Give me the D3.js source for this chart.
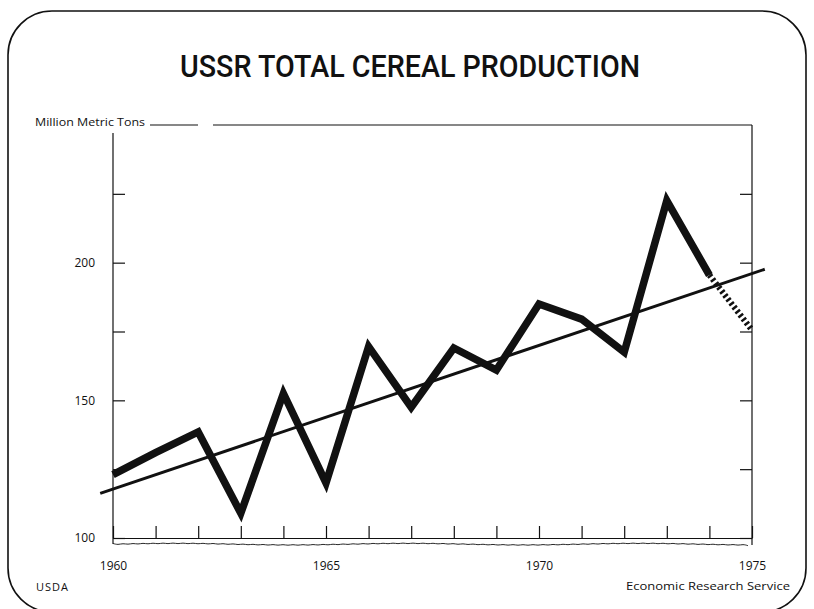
<!DOCTYPE html>
<html>
<head>
<meta charset="utf-8">
<script src="https://d3js.org/d3.v7.min.js"></script>
<style>
body { margin: 0; background: #fff; }
svg { display: block; }
.axis text { font-family: "Open Sans", sans-serif; font-size: 12px; fill: #111; }
.axis line { stroke: #111; stroke-width: 1.2; }
</style>
</head>
<body>
<svg id="chart" width="814" height="609"></svg>
<script>
"use strict";

//Yearly production, million metric tons
var years = [1960, 1961, 1962, 1963, 1964, 1965, 1966, 1967, 1968, 1969, 1970, 1971, 1972, 1973, 1974];
var production = [123, 131, 138.5, 109, 152.5, 120, 169.5, 147.5, 169, 161, 185, 179.5, 167.5, 222.5, 195.5];

//Dotted estimate segment
var estimateYears = [1974, 1975];
var estimateValues = [195.5, 175.5];

//Trend line end points (it runs a little past both axes)
var trendYears = [1959.7, 1975.3];
var trendValues = [116.2, 197.6];

//Ticks and labels
var yTicks = [100, 125, 150, 175, 200, 225];
var yLabels = [100, 150, 200];
var xTicks = d3.range(1960, 1976);
var xLabels = [1960, 1965, 1970, 1975];

var svg = d3.select("#chart");

//Scales
var x = d3.scaleLinear().domain([1960, 1975]).range([113, 752]);
var y = d3.scaleLinear().domain([100, 250]).range([538, 125]);

//Rounded frame round the whole slide
svg.append("rect")
  .attr("x", 8)
  .attr("y", 11)
  .attr("width", 798)
  .attr("height", 601)
  .attr("rx", 44)
  .attr("fill", "none")
  .attr("stroke", "#111")
  .attr("stroke-width", 1.6);

//Title
svg.append("text")
  .attr("x", 410)
  .attr("y", 77)
  .attr("text-anchor", "middle")
  .attr("textLength", 460)
  .attr("lengthAdjust", "spacingAndGlyphs")
  .style("font-family", "Roboto, sans-serif")
  .style("font-size", "32px")
  .style("font-weight", 500)
  .style("fill", "#111")
  .text("USSR TOTAL CEREAL PRODUCTION");

//Unit label and top rule
svg.append("text")
  .attr("x", 35)
  .attr("y", 126)
  .attr("textLength", 110)
  .attr("lengthAdjust", "spacingAndGlyphs")
  .style("font-family", "\"Open Sans\", sans-serif")
  .style("font-size", "11px")
  .style("fill", "#111")
  .text("Million Metric Tons");

svg.append("line")
  .attr("x1", 150).attr("x2", 198)
  .attr("y1", y(250)).attr("y2", y(250))
  .attr("stroke", "#111").attr("stroke-width", 1.2);

svg.append("line")
  .attr("x1", 213).attr("x2", x(1975))
  .attr("y1", y(250)).attr("y2", y(250))
  .attr("stroke", "#111").attr("stroke-width", 1.2);

//Left axis, ticks point inward
var yAxis = svg.append("g")
  .attr("class", "axis")
  .attr("transform", "translate(" + x(1960) + ",0)")
  .call(d3.axisLeft(y)
    .tickValues(yTicks)
    .tickSizeInner(-12)
    .tickSizeOuter(0)
    .tickPadding(18)
    .tickFormat(function(d) { return yLabels.includes(d) ? d : ""; }));
yAxis.select(".domain").remove();

//Right axis ticks
var yAxisRight = svg.append("g")
  .attr("class", "axis")
  .attr("transform", "translate(" + x(1975) + ",0)")
  .call(d3.axisRight(y)
    .tickValues(yTicks)
    .tickSizeInner(-12)
    .tickSizeOuter(0)
    .tickFormat(""));
yAxisRight.select(".domain").remove();

//Vertical frame lines of the plot
svg.append("line")
  .attr("x1", x(1960)).attr("x2", x(1960))
  .attr("y1", 133).attr("y2", 544)
  .attr("stroke", "#111").attr("stroke-width", 1.2);

svg.append("line")
  .attr("x1", x(1975)).attr("x2", x(1975))
  .attr("y1", y(250)).attr("y2", 545)
  .attr("stroke", "#111").attr("stroke-width", 1.2);

//Bottom axis, ticks point up
var xAxis = svg.append("g")
  .attr("class", "axis")
  .attr("transform", "translate(0," + y(100) + ")")
  .call(d3.axisBottom(x)
    .tickValues(xTicks)
    .tickSizeInner(-12)
    .tickSizeOuter(0)
    .tickPadding(23)
    .tickFormat(function(d) { return xLabels.includes(d) ? d : ""; }));
xAxis.select(".domain")
  .attr("stroke", "#111")
  .attr("stroke-width", 1.2);

//Wavy broken-axis line under the x axis
var wave = d3.line()
  .curve(d3.curveBasis)
  .x(function(d) { return d[0]; })
  .y(function(d) { return d[1]; });

svg.append("path")
  .attr("d", wave(d3.range(x(1960), x(1975) + 1, 5).map(function(px, i) {
    return [px, 544 + (i % 2 ? 0.9 : -0.6) + Math.sin(px / 37) * 0.8];
  })))
  .attr("fill", "none")
  .attr("stroke", "#111")
  .attr("stroke-width", 0.9);

//Trend line
var trendPts = trendYears.map(function(d, i) { return {year: d, value: trendValues[i]}; });
var line = d3.line()
  .x(function(d) { return x(d.year); })
  .y(function(d) { return y(d.value); });

svg.append("path")
  .datum(trendPts)
  .attr("d", line)
  .attr("fill", "none")
  .attr("stroke", "#111")
  .attr("stroke-width", 3);

//Production line
var prodPts = years.map(function(d, i) { return {year: d, value: production[i]}; });
svg.append("path")
  .datum(prodPts)
  .attr("d", line)
  .attr("fill", "none")
  .attr("stroke", "#111")
  .attr("stroke-width", 7.5)
  .attr("stroke-linejoin", "miter")
  .attr("stroke-miterlimit", 10);

//Estimate, dotted
var estPts = estimateYears.map(function(d, i) { return {year: d, value: estimateValues[i]}; });
svg.append("path")
  .datum(estPts)
  .attr("d", line)
  .attr("fill", "none")
  .attr("stroke", "#111")
  .attr("stroke-width", 6)
  .attr("stroke-dasharray", "2.5,2.5");

//Footer texts
svg.append("text")
  .attr("x", 36)
  .attr("y", 591)
  .style("font-family", "\"Open Sans\", sans-serif")
  .style("font-size", "11px")
  .style("letter-spacing", "1px")
  .style("fill", "#111")
  .text("USDA");

svg.append("text")
  .attr("x", 790)
  .attr("y", 590)
  .attr("text-anchor", "end")
  .attr("textLength", 164)
  .attr("lengthAdjust", "spacingAndGlyphs")
  .style("font-family", "\"Open Sans\", sans-serif")
  .style("font-size", "11px")
  .style("fill", "#111")
  .text("Economic Research Service");
</script>
</body>
</html>
